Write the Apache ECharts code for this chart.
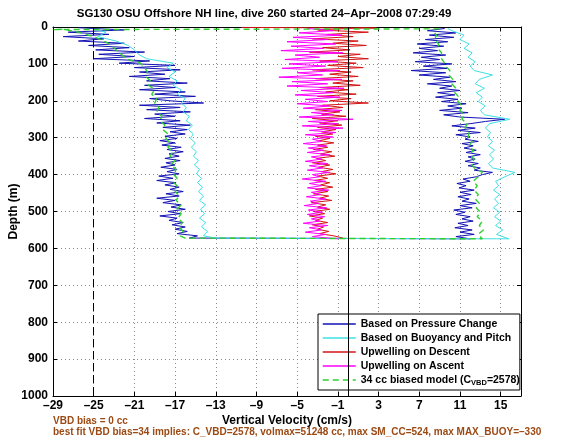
<!DOCTYPE html>
<html><head><meta charset="utf-8">
<script src="https://cdn.jsdelivr.net/npm/echarts@6/dist/echarts.min.js"></script>
<style>html,body{margin:0;padding:0;background:#fff}#c{width:568px;height:442px}</style>
</head><body><div id="c"></div>
<script>
// ---------- text ----------
const titleText = 'SG130 OSU Offshore NH line, dive 260 started 24\u2013Apr\u20132008 07:29:49';
const xName = 'Vertical Velocity (cm/s)';
const yName = 'Depth (m)';
const noteLine1 = 'VBD bias = 0 cc';
const noteLine2 = 'best fit VBD bias=34 implies: C_VBD=2578, volmax=51248 cc, max SM_CC=524, max MAX_BUOY=\u2013330';
const seriesNames = ['Based on Pressure Change', 'Based on Buoyancy and Pitch', 'Upwelling on Descent', 'Upwelling on Ascent', '34 cc biased model (C_VBD=2578)'];

// ---------- axes ----------
const xMin = -29, xMax = 17, xStep = 4;
const yMin = 0, yMax = 1000, yStep = 100;
const refDashX = -25;   // dashed vertical reference
const refSolidX = 0;    // solid vertical reference

// ---------- depths (m) ----------
const descDepth = [
  2,8,14,20,26,32,38,44,50,56,62,68,
  74,80,86,92,98,104,110,116,122,128,134,140,
  146,152,158,164,170,176,182,188,194,200,206,212,
  218,224,230,236,242,248,254,260,266,272,278,284,
  290,296,302,308,314,320,326,332,338,344,350,356,
  362,368,374,380,386,392,398,404,410,416,422,428,
  434,440,446,452,458,464,470,476,482,488,494,500,
  506,512,518,524,530,536,542,548,554,560,566,572];
const ascDepth = [
  574,568,562,556,550,544,538,532,526,520,514,508,
  502,496,490,484,478,472,466,460,454,448,442,436,
  430,424,418,412,406,400,394,388,382,376,370,364,
  358,352,346,340,334,328,322,316,310,304,298,292,
  286,280,274,268,262,256,250,244,238,232,226,220,
  214,208,202,196,190,184,178,172,166,160,154,148,
  142,136,130,124,118,112,106,100,94,88,82,76,
  70,64,58,52,46,40,34,28,22,16,10,4];
const descDepthCoarse = [
  6,14,26,38,50,62,74,
  86,98,110,122,134,146,158,
  170,182,194,206,218,230,242,
  254,266,278,290,302,314,326,
  338,350,362,374,386,398,410,
  422,434,446,458,470,482,494,
  506,518,530,542,554,566,572];
const ascDepthCoarse = [
  574,562,550,538,526,514,502,
  490,478,466,454,442,430,418,
  406,394,382,370,358,346,334,
  322,310,298,286,274,262,250,
  238,226,214,202,190,178,166,
  154,142,130,118,106,94,82,
  70,58,46,34,22,10,4];

// ---------- vertical velocities (cm/s) ----------
const pressureDesc = [
  -26.5,-22.0,-27.5,-23.5,-28.0,-24.0,-26.5,-22.0,-25.5,-21.5,-24.8,-20.0,
  -24.5,-21.0,-25.0,-19.5,-22.5,-17.0,-21.0,-16.5,-20.5,-18.0,-21.5,-17.5,
  -19.8,-15.8,-20.0,-17.0,-20.5,-16.0,-19.0,-15.0,-19.5,-17.5,-14.2,-20.5,
  -16.5,-19.8,-15.5,-19.0,-17.0,-20.0,-16.5,-18.8,-15.5,-18.2,-15.8,-17.5,
  -16.0,-18.0,-16.8,-18.5,-17.0,-18.3,-16.4,-17.8,-16.2,-17.6,-16.6,-18.0,
  -16.5,-17.9,-17.0,-18.4,-16.8,-17.8,-16.6,-18.6,-17.2,-18.8,-16.9,-18.0,
  -16.6,-17.5,-16.2,-17.9,-16.6,-18.8,-17.0,-18.2,-16.4,-17.4,-16.0,-17.7,
  -16.5,-18.5,-16.8,-17.6,-16.2,-17.3,-16.0,-17.0,-15.8,-16.8,-14.8,-15.6];
const pressureAsc = [
  12.0,10.6,12.4,11.0,12.2,10.5,11.8,10.8,12.3,11.2,12.0,10.6,
  11.5,10.4,12.2,11.0,12.6,11.2,11.9,10.8,12.1,11.0,12.4,10.9,
  11.6,10.7,12.0,11.3,12.6,13.2,14.2,12.4,13.0,11.8,12.8,11.5,
  12.5,11.8,13.0,11.6,12.6,11.4,12.3,11.2,12.8,11.5,12.0,10.6,
  13.0,10.8,12.5,10.2,12.0,13.5,15.4,11.0,9.4,11.8,9.0,11.2,
  9.8,11.6,9.2,10.8,8.6,10.5,8.8,11.0,9.0,10.2,7.8,10.6,
  8.4,10.0,7.0,9.6,6.2,9.8,7.4,10.2,6.6,9.0,7.2,9.6,
  6.4,8.8,7.0,9.4,6.8,9.8,7.6,10.4,8.0,10.6,7.8,9.5];
const buoyDesc = [
  -25.0,-23.8,-24.6,-22.8,-21.6,-21.0,-20.6,
  -19.8,-17.2,-17.8,-17.0,-17.6,-16.8,-17.2,
  -16.4,-16.8,-16.0,-16.4,-15.9,-16.2,-15.6,
  -15.9,-15.3,-15.7,-15.2,-15.5,-15.0,-15.4,
  -14.9,-15.2,-14.7,-15.1,-14.6,-14.9,-14.4,
  -14.8,-14.3,-14.7,-14.2,-14.6,-14.0,-14.5,
  -14.1,-14.6,-14.0,-14.4,-13.8,-14.2,-13.0];
const buoyAsc = [
  15.8,14.6,15.2,14.5,15.0,14.4,14.9,
  14.3,14.8,14.4,14.9,14.3,14.8,14.5,
  15.4,16.4,14.2,13.8,14.3,13.9,14.4,
  13.8,14.2,13.7,14.0,13.5,13.9,15.9,
  13.4,13.0,13.5,12.8,13.2,12.6,13.4,
  12.5,12.9,14.2,12.4,12.0,12.5,11.8,
  12.2,11.4,11.9,11.0,11.4,10.2,9.8];
const upDescSurfVel = [-10.5, 2.8];
const upDescSurfDepth = [1, 3];
const upDesc = [
  1.5,-3.0,2.0,-2.0,0.5,-3.5,1.0,-1.5,1.8,-2.5,0.2,-3.8,
  1.2,-1.0,2.0,-2.8,0.8,-2.0,1.5,-3.5,0.3,-1.8,1.0,-3.2,
  0.5,-1.5,1.2,-2.8,0.0,-2.2,0.8,-3.0,0.3,-1.8,2.0,-2.5,
  -0.5,-3.2,-0.8,-2.6,-0.2,-3.5,-1.0,-2.8,-0.6,-3.0,-1.2,-2.6,
  -1.5,-3.2,-1.8,-2.8,-1.4,-3.0,-2.0,-3.4,-1.6,-2.7,-1.3,-3.1,
  -2.2,-3.5,-1.8,-2.9,-1.5,-2.6,-1.2,-3.0,-2.0,-3.3,-1.8,-2.7,
  -1.5,-3.2,-2.0,-3.4,-1.9,-2.8,-1.6,-3.6,-2.2,-3.0,-1.8,-3.4,
  -2.3,-3.8,-2.5,-3.2,-2.0,-3.5,-2.4,-3.0,-1.9,-2.8,-1.4,-0.5];
const upAsc = [
  -1.0,-3.5,-2.2,-4.2,-2.6,-3.8,-2.0,-4.4,-2.8,-3.6,-2.3,-4.0,
  -2.5,-3.9,-2.1,-4.3,-2.9,-3.7,-2.2,-4.1,-2.7,-3.6,-1.9,-4.0,
  -2.6,-3.8,-2.2,-4.5,-2.8,-3.5,-1.8,-4.0,-2.5,-3.8,-2.0,-4.2,
  -2.6,-3.6,-1.8,-4.0,-2.4,-3.9,-2.1,-4.4,-2.6,-3.5,-1.5,-4.2,
  -1.2,-3.8,-0.5,-4.5,-1.0,-3.9,0.5,-4.8,-1.4,-3.6,-0.6,-4.4,
  -1.8,-5.0,-2.0,-4.2,-0.8,-5.2,-1.5,-4.6,-0.4,-6.0,-2.0,-5.5,
  -0.6,-6.8,-2.5,-5.0,-0.8,-6.5,-2.2,-5.8,-1.0,-6.2,-2.8,-5.2,
  -0.5,-6.6,-2.4,-5.6,-1.2,-6.0,-2.0,-5.4,-0.6,-4.8,-1.5,-4.0];
const modelSurfVel = [9.0, -29.0];
const modelSurfDepth = [5, 7];
const modelDesc = [
  -28.0,-26.5,-25.0,-24.0,-23.2,-22.8,-22.3,
  -21.8,-20.4,-20.0,-19.7,-19.9,-19.4,-19.6,
  -19.0,-19.3,-18.8,-19.0,-18.6,-18.8,-18.3,
  -18.5,-18.0,-18.2,-17.7,-17.9,-17.5,-17.7,
  -17.2,-17.5,-17.0,-17.4,-16.9,-17.2,-16.8,
  -17.1,-16.7,-17.0,-16.6,-16.9,-16.4,-16.8,
  -16.4,-16.7,-16.3,-16.6,-16.2,-16.5,-16.0];
const modelAsc = [
  13.2,12.8,13.3,12.9,13.2,12.7,13.0,
  12.6,12.9,12.5,12.8,12.4,12.7,12.3,
  12.8,13.2,12.4,12.1,12.4,12.0,12.3,
  11.9,12.2,11.8,11.9,11.5,11.7,11.2,
  11.4,11.0,11.2,10.8,10.9,10.5,10.6,
  10.2,10.3,9.9,10.0,9.6,9.4,9.1,
  9.2,8.8,8.9,8.5,8.7,8.3,8.5];

// ---------- build ----------
const zip = (xs, ys) => xs.map((x, i) => [x, ys[i]]);
const FONT = '"Liberation Sans", Arial, Helvetica, sans-serif';
const fmtNum = v => String(v).replace('-', '\u2013');

const colors = ['#1212b4', '#3fe0e4', '#d41414', '#ff00ff', '#2fcf2f'];
const mk = (name, color, data, dashed, width) => ({
  name, type: 'line', data, symbol: 'none', showSymbol: false, silent: true,
  animation: false, clip: true,
  lineStyle: { color, width: width || 1, type: dashed ? [6, 4] : 'solid' },
  itemStyle: { color }
});

const series = [
  mk(seriesNames[0], colors[0], zip(pressureDesc, descDepth).concat(zip(pressureAsc, ascDepth))),
  mk(seriesNames[1], colors[1], zip(buoyDesc, descDepthCoarse).concat(zip(buoyAsc, ascDepthCoarse))),
  mk(seriesNames[2], colors[2], zip(upDescSurfVel, upDescSurfDepth).concat(zip(upDesc, descDepth))),
  mk(seriesNames[3], colors[3], zip(upAsc, ascDepth)),
  mk(seriesNames[4], colors[4], zip(modelSurfVel, modelSurfDepth).concat(zip(modelDesc, descDepthCoarse), zip(modelAsc, ascDepthCoarse)), true, 1.4),
  {
    name: 'refs', type: 'line', data: [], silent: true, animation: false, z: 5,
    markLine: {
      silent: true, symbol: 'none', animation: false, label: { show: false },
      data: [
        { xAxis: refDashX, lineStyle: { color: '#000', type: [8, 4], width: 1 } },
        { xAxis: refSolidX, lineStyle: { color: '#000', type: 'solid', width: 1 } }
      ]
    }
  }
];

const axisText = { fontFamily: FONT, fontWeight: 'bold', fontSize: 12, color: '#000' };
const gridLine = { show: true, lineStyle: { color: '#8a8a8a', type: [1, 3], width: 1 } };
const axLine = { show: true, onZero: false, lineStyle: { color: '#000', width: 1 } };
const axTick = { show: true, inside: true, length: 4, lineStyle: { color: '#000', width: 1 } };

const chart = echarts.init(document.getElementById('c'), null, { renderer: 'canvas' });
chart.setOption({
  backgroundColor: '#fff',
  animation: false,
  title: {
    text: titleText, left: 264, top: 8, textAlign: 'center', padding: 0,
    textStyle: { fontFamily: FONT, fontWeight: 'bold', fontSize: 11.5, color: '#000' }
  },
  grid: { left: 53, top: 27, width: 468, height: 369, containLabel: false, outerBoundsMode: 'none' },
  xAxis: [
    { type: 'value', min: xMin, max: xMax, interval: xStep, position: 'bottom',
      axisLine: axLine, axisTick: axTick, splitLine: gridLine,
      axisLabel: Object.assign({ margin: 4, showMaxLabel: false, formatter: fmtNum }, axisText),
      name: xName, nameLocation: 'middle', nameGap: 19, nameMoveOverlap: false,
      nameTextStyle: Object.assign({ verticalAlign: 'top' }, axisText) },
    { type: 'value', min: xMin, max: xMax, interval: xStep, position: 'top',
      axisLine: axLine, axisTick: axTick, splitLine: { show: false }, axisLabel: { show: false } }
  ],
  yAxis: [
    { type: 'value', inverse: true, min: yMin, max: yMax, interval: yStep, position: 'left',
      axisLine: axLine, axisTick: axTick, splitLine: gridLine,
      axisLabel: Object.assign({ margin: 5, formatter: v => String(v) }, axisText),
      name: yName, nameLocation: 'middle', nameGap: 33, nameRotate: 90, nameMoveOverlap: false,
      nameTextStyle: axisText },
    { type: 'value', inverse: true, min: yMin, max: yMax, interval: yStep, position: 'right',
      axisLine: axLine, axisTick: axTick, splitLine: { show: false }, axisLabel: { show: false } }
  ],
  legend: {
    data: seriesNames, orient: 'vertical', left: 318, top: 314,
    itemWidth: 33, itemHeight: 12, itemGap: 2, padding: [4, 0, 3, 4],
    backgroundColor: '#fff', borderColor: '#000', borderWidth: 1, borderRadius: 0,
    selectedMode: false,
    itemStyle: { opacity: 0 },
    lineStyle: { width: 1.5 },
    formatter: n => n === seriesNames[4] ? '34 cc biased model (C{sub|VBD}=2578)' : n,
    textStyle: {
      fontFamily: FONT, fontWeight: 'bold', fontSize: 10.5, color: '#000', lineHeight: 12,
      rich: { sub: { fontFamily: FONT, fontWeight: 'bold', fontSize: 7.5, color: '#000', padding: [6, 0, 0, 0] } }
    }
  },
  graphic: [
    { type: 'text', left: 53, top: 416, silent: true,
      style: { text: noteLine1, fill: '#9c4a14', font: 'bold 10px ' + FONT } },
    { type: 'text', left: 53, top: 427, silent: true,
      style: { text: noteLine2, fill: '#9c4a14', font: 'bold 10px ' + FONT } }
  ],
  series
});
</script></body></html>
